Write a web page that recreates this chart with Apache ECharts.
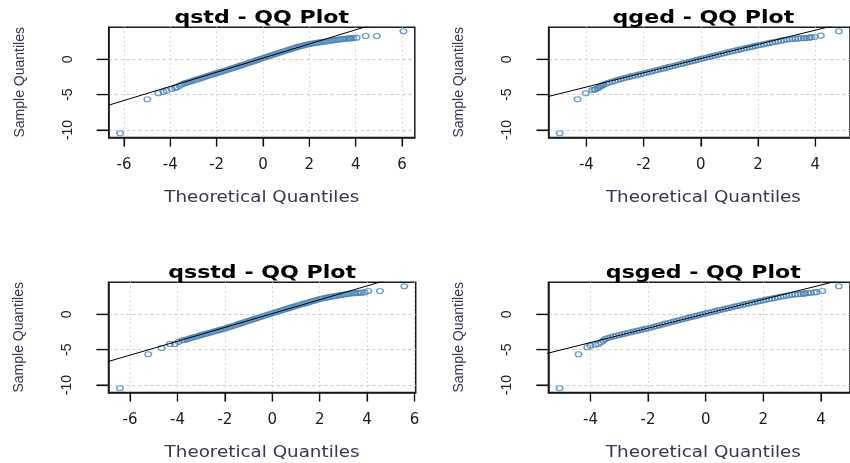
<!DOCTYPE html>
<html><head><meta charset="utf-8">
<script src="https://cdn.jsdelivr.net/npm/echarts@6/dist/echarts.min.js"></script>
<style>html,body{margin:0;padding:0;background:#fff}#c{width:850px;height:463px}</style>
</head><body><div id="c"></div>
<script>
// ---- data ----
const titles = ['qstd - QQ Plot', 'qged - QQ Plot', 'qsstd - QQ Plot', 'qsged - QQ Plot'];
const xName = 'Theoretical Quantiles';
const yName = 'Sample Quantiles';
const xTicksWide = [-6, -4, -2, 0, 2, 4, 6];
const xTicksNarrow = [-4, -2, 0, 2, 4];
const yTicks = [-10, -5, 0];

const qstdX = [-6.17,-4.99,-4.52,-4.3,-4.16,-3.94,-3.8,-3.72,-3.6,
-3.5,-3.4,-3.3,-3.2,-3.1,-3.0,-2.9,-2.8,-2.7,-2.6,
-2.5,-2.4,-2.3,-2.2,-2.1,-2.0,-1.9,-1.8,-1.7,-1.6,
-1.5,-1.4,-1.3,-1.2,-1.1,-1.0,-0.9,-0.8,-0.7,-0.6,
-0.5,-0.4,-0.3,-0.2,-0.1,0,0.1,0.2,0.3,0.4,
0.5,0.6,0.7,0.8,0.9,1.0,1.1,1.2,1.3,1.4,
1.5,1.6,1.7,1.8,1.9,2.0,2.1,2.2,2.3,2.4,
2.5,2.6,2.7,2.8,2.9,3.0,3.1,3.2,3.3,3.4,
3.5,3.6,3.7,3.75,3.8,3.9,4.04,4.43,4.91,6.06];
const qstdY = [-10.47,-5.66,-4.81,-4.6,-4.44,-4.2,-4.05,-3.96,-3.75,
-3.53,-3.41,-3.32,-3.22,-3.11,-3.01,-2.90,-2.80,-2.69,-2.59,
-2.48,-2.38,-2.27,-2.17,-2.06,-1.96,-1.86,-1.76,-1.65,-1.55,
-1.45,-1.35,-1.24,-1.14,-1.03,-0.93,-0.82,-0.71,-0.60,-0.49,
-0.38,-0.27,-0.16,-0.05,0.06,0.17,0.28,0.39,0.49,0.60,
0.71,0.82,0.92,1.03,1.13,1.24,1.34,1.44,1.55,1.65,
1.75,1.83,1.92,2.00,2.09,2.17,2.22,2.27,2.32,2.37,
2.42,2.47,2.52,2.57,2.62,2.67,2.72,2.76,2.81,2.85,
2.90,2.92,2.94,2.97,2.97,3.0,3.06,3.3,3.3,3.96];
const qstdLineX = [-8, 8];
const qstdLineY = [-7.83, 8.17];

const qgedX = [-4.93,-4.31,-4.02,-3.8,-3.72,-3.68,-3.6,-3.55,-3.51,-3.45,
-3.4,-3.3,-3.2,-3.1,-3.0,-2.9,-2.8,-2.7,-2.6,-2.5,
-2.4,-2.3,-2.2,-2.1,-2.0,-1.9,-1.8,-1.7,-1.6,-1.5,
-1.4,-1.3,-1.2,-1.1,-1.0,-0.9,-0.8,-0.7,-0.6,-0.5,
-0.4,-0.3,-0.2,-0.1,0,0.1,0.2,0.3,0.4,0.5,
0.6,0.7,0.8,0.9,1.0,1.1,1.2,1.3,1.4,1.5,
1.6,1.7,1.8,1.9,2.0,2.1,2.2,2.3,2.4,2.5,
2.6,2.7,2.8,2.9,3.0,3.1,3.2,3.3,3.4,
3.5,3.6,3.68,3.78,3.85,3.97,4.19,4.82];
const qgedY = [-10.47,-5.66,-4.81,-4.34,-4.28,-4.25,-4.1,-3.95,-3.82,-3.7,
-3.58,-3.43,-3.29,-3.16,-3.03,-2.91,-2.80,-2.69,-2.58,-2.48,
-2.39,-2.29,-2.19,-2.10,-2.00,-1.90,-1.80,-1.69,-1.59,-1.49,
-1.39,-1.29,-1.18,-1.08,-0.98,-0.88,-0.77,-0.67,-0.57,-0.47,
-0.36,-0.26,-0.16,-0.05,0.05,0.15,0.25,0.35,0.45,0.55,
0.65,0.75,0.85,0.95,1.05,1.14,1.24,1.33,1.42,1.52,
1.61,1.70,1.79,1.89,1.98,2.06,2.15,2.23,2.32,2.40,
2.48,2.56,2.64,2.72,2.80,2.84,2.87,2.91,2.95,
2.97,2.99,3.0,3.06,3.11,3.16,3.34,3.96];
const qgedLineX = [-7, 7];
const qgedLineY = [-6.94, 7.14];

const qsstdX = [-6.43,-5.23,-4.67,-4.32,-4.11,-3.95,-3.8,
-3.7,-3.6,-3.5,-3.4,-3.3,-3.2,-3.1,-3.0,-2.9,-2.8,
-2.7,-2.6,-2.5,-2.4,-2.3,-2.2,-2.1,-2.0,-1.9,-1.8,
-1.7,-1.6,-1.5,-1.4,-1.3,-1.2,-1.1,-1.0,-0.9,-0.8,
-0.7,-0.6,-0.5,-0.4,-0.3,-0.2,-0.1,0,0.1,0.2,
0.3,0.4,0.5,0.6,0.7,0.8,0.9,1.0,1.1,1.2,
1.3,1.4,1.5,1.6,1.7,1.8,1.9,2.0,2.1,2.2,
2.3,2.4,2.5,2.6,2.7,2.8,2.9,3.0,3.1,3.2,
3.3,3.4,
3.5,3.6,3.7,3.77,3.9,4.05,4.54,5.57];
const qsstdY = [-10.47,-5.66,-4.77,-4.2,-4.2,-3.9,-3.68,
-3.63,-3.53,-3.43,-3.33,-3.23,-3.14,-3.04,-2.94,-2.85,-2.75,
-2.66,-2.57,-2.48,-2.38,-2.29,-2.20,-2.10,-2.01,-1.90,-1.79,
-1.69,-1.58,-1.47,-1.36,-1.25,-1.15,-1.04,-0.93,-0.82,-0.71,
-0.61,-0.50,-0.39,-0.28,-0.17,-0.07,0.04,0.15,0.25,0.36,
0.46,0.56,0.67,0.77,0.87,0.97,1.08,1.18,1.28,1.38,
1.47,1.57,1.67,1.77,1.87,1.96,2.06,2.16,2.23,2.30,
2.36,2.43,2.50,2.56,2.62,2.67,2.73,2.79,2.84,2.89,
2.93,2.98,
3.0,3.02,3.04,3.06,3.1,3.3,3.3,3.96];
const qsstdLineX = [-8, 8];
const qsstdLineY = [-7.74, 7.94];

const qsgedX = [-5.07,-4.41,-4.11,-4.0,-3.83,-3.72,-3.63,-3.55,
-3.5,-3.4,-3.3,-3.2,-3.1,-3.0,-2.9,-2.8,-2.7,-2.6,
-2.5,-2.4,-2.3,-2.2,-2.1,-2.0,-1.9,-1.8,-1.7,-1.6,
-1.5,-1.4,-1.3,-1.2,-1.1,-1.0,-0.9,-0.8,-0.7,-0.6,
-0.5,-0.4,-0.3,-0.2,-0.1,0,0.1,0.2,0.3,0.4,
0.5,0.6,0.7,0.8,0.9,1.0,1.1,1.2,1.3,1.4,
1.5,1.6,1.7,1.8,1.9,2.0,2.1,2.2,2.3,2.4,
2.5,2.6,2.7,2.8,2.9,3.0,3.1,3.2,3.3,
3.4,3.45,3.55,3.65,3.77,3.85,4.05,4.62];
const qsgedY = [-10.47,-5.66,-4.67,-4.44,-4.3,-4.2,-3.95,-3.73,
-3.50,-3.37,-3.25,-3.13,-3.03,-2.93,-2.84,-2.74,-2.65,-2.54,
-2.45,-2.35,-2.26,-2.16,-2.07,-1.97,-1.87,-1.76,-1.65,-1.55,
-1.44,-1.33,-1.23,-1.12,-1.01,-0.91,-0.81,-0.70,-0.60,-0.50,
-0.39,-0.29,-0.19,-0.08,0.02,0.12,0.22,0.31,0.41,0.51,
0.60,0.70,0.80,0.89,0.99,1.09,1.18,1.27,1.36,1.45,
1.54,1.63,1.72,1.81,1.89,1.98,2.07,2.16,2.24,2.33,
2.41,2.48,2.56,2.63,2.70,2.77,2.81,2.84,2.88,
2.92,2.95,3.01,3.05,3.11,3.13,3.3,3.96];
const qsgedLineX = [-7, 7];
const qsgedLineY = [-7.05, 7.19];

const xRanges = [[-6.66, 6.55], [-5.32, 5.21], [-6.91, 6.05], [-5.46, 5.01]];
const yRange = [-11.05, 4.54];

// ---- layout ----
const grids = [
  {left: 108.7, top: 27.2, width: 306.1, height: 110.2},
  {left: 548.6, top: 27.2, width: 309.6, height: 110.2},
  {left: 108.5, top: 282.2, width: 307.2, height: 110.2},
  {left: 548.4, top: 282.2, width: 309.9, height: 110.2}
];
const pts = [[qstdX, qstdY], [qgedX, qgedY], [qsstdX, qsstdY], [qsgedX, qsgedY]];
const lines = [[qstdLineX, qstdLineY], [qgedLineX, qgedLineY], [qsstdLineX, qsstdLineY], [qsgedLineX, qsgedLineY]];
const xTickSets = [xTicksWide, xTicksNarrow, xTicksWide, xTicksNarrow];

const zip = (a, b) => a.map((v, i) => [v, b[i]]);
const txtCol = '#1e1a26';
const nameCol = '#3d3350';
const font = 'DejaVu Sans';
const boxCol = '#1a1a1a';
const tickCol = '#111';

const graphics = [];
grids.forEach((g, i) => {
  const cx = g.left + g.width / 2;
  graphics.push({
    type: 'text', x: cx, y: g.top - 9, scaleX: 1.3,
    style: {text: titles[i], align: 'center', verticalAlign: 'middle', font: 'bold 17px "DejaVu Sans"', fill: '#000'}
  });
  graphics.push({
    type: 'text', x: cx, y: g.top + g.height + 61, scaleX: 1.22,
    style: {text: xName, align: 'center', verticalAlign: 'middle', font: '15px "DejaVu Sans"', fill: nameCol}
  });
});

const option = {
  animation: false,
  grid: grids.map(g => Object.assign({show: true, borderColor: boxCol, borderWidth: 1.5}, g)),
  xAxis: grids.map((g, i) => ({
    type: 'value', gridIndex: i, min: xRanges[i][0], max: xRanges[i][1],
    axisLine: {show: true, onZero: false, lineStyle: {color: boxCol, width: 1.5}},
    axisTick: {show: true, length: 9, lineStyle: {color: tickCol, width: 1.2}, customValues: xTickSets[i]},
    axisLabel: {customValues: xTickSets[i], margin: 20, color: txtCol, fontFamily: font, fontSize: 15},
    splitLine: {show: true, lineStyle: {color: '#cdcdcd', width: 1, type: [1.5, 3]}}
  })),
  yAxis: grids.map((g, i) => ({
    type: 'value', gridIndex: i, min: yRange[0], max: yRange[1],
    axisLine: {show: true, onZero: false, lineStyle: {color: boxCol, width: 1.5}},
    axisTick: {show: true, length: 12, lineStyle: {color: tickCol, width: 1.2}, customValues: yTicks},
    axisLabel: {customValues: yTicks, rotate: 90, margin: 34, color: txtCol, fontFamily: 'Liberation Sans', fontSize: 14},
    splitLine: {show: true, lineStyle: {color: '#cdcdcd', width: 1, type: [3, 3]}},
    name: yName, nameLocation: 'middle', nameGap: 82,
    nameTextStyle: {color: nameCol, fontFamily: 'Liberation Sans', fontSize: 14}
  })),
  graphic: graphics,
  series: [].concat(
    pts.map((p, i) => ({
      type: 'scatter', xAxisIndex: i, yAxisIndex: i, data: zip(p[0], p[1]),
      symbol: 'circle', symbolSize: [6.5, 5], silent: true,
      itemStyle: {color: 'rgba(0,0,0,0)', borderColor: '#4682b4', borderWidth: 1.3}
    })),
    lines.map((l, i) => ({
      type: 'line', xAxisIndex: i, yAxisIndex: i, data: zip(l[0], l[1]),
      showSymbol: false, symbol: 'none', clip: true, silent: true,
      lineStyle: {color: '#000', width: 1}
    })),
    // tick marks placed through the axes' own scales (outside the plot box)
    grids.map((g, i) => ({
      type: 'scatter', xAxisIndex: i, yAxisIndex: i, clip: false, silent: true,
      data: xTickSets[i].map(v => [v, yRange[0]]),
      symbol: 'rect', symbolSize: [1.2, 9], symbolOffset: [0, 4.5],
      itemStyle: {color: tickCol}
    })),
    grids.map((g, i) => ({
      type: 'scatter', xAxisIndex: i, yAxisIndex: i, clip: false, silent: true,
      data: yTicks.map(v => [xRanges[i][0], v]),
      symbol: 'rect', symbolSize: [12, 1.2], symbolOffset: [-6, 0],
      itemStyle: {color: tickCol}
    }))
  )
};
echarts.init(document.getElementById('c')).setOption(option);
</script></body></html>
